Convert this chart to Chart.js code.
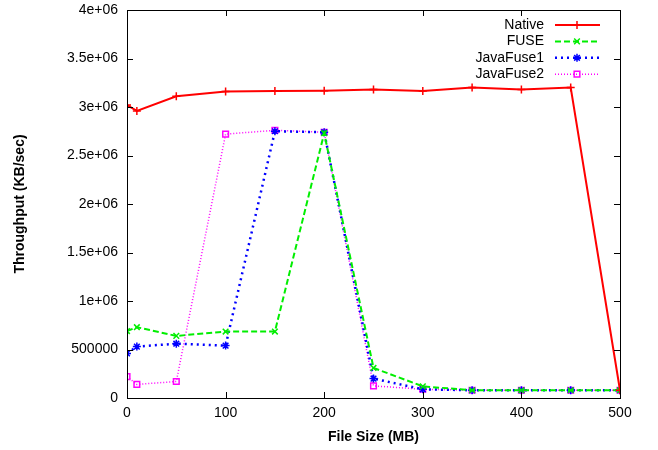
<!DOCTYPE html>
<html>
<head>
<meta charset="utf-8">
<script src="https://cdn.jsdelivr.net/npm/chart.js@4/dist/chart.umd.min.js"></script>
<style>
  html, body { margin: 0; padding: 0; background: #fff; }
  #wrap { width: 658px; height: 450px; }
</style>
</head>
<body>
<div id="wrap"><canvas id="chart" width="658" height="450"></canvas></div>
<script>
// file sizes (MB)
const sizes = [0, 10, 50, 100, 150, 200, 250, 300, 350, 400, 450, 500];

// throughput (KB/sec)
const nativeVals    = [3020000, 2960000, 3110000, 3160000, 3165000, 3168000, 3180000, 3166000, 3200000, 3180000, 3200000, 80000];
const fuseVals      = [690000, 730000, 640000, 685000, 685000, 2730000, 310000, 120000, 80000, 80000, 80000, 80000];
const javaFuse1Vals = [460000, 530000, 560000, 540000, 2750000, 2740000, 200000, 90000, 80000, 80000, 80000, 80000];
const javaFuse2Vals = [220000, 140000, 170000, 2720000, 2760000, 2740000, 125000, 90000, 80000, 80000, 80000, 80000];

const xTicks = [0, 100, 200, 300, 400, 500];
const yTicks = [0, 500000, 1000000, 1500000, 2000000, 2500000, 3000000, 3500000, 4000000];
const yTickLabels = ['0', '500000', '1e+06', '1.5e+06', '2e+06', '2.5e+06', '3e+06', '3.5e+06', '4e+06'];

const FONT = "'Liberation Sans', Arial, sans-serif";

const series = [
  { label: 'Native',    data: nativeVals,    color: '#ff0000', dash: [],     style: 'cross',    width: 2 },
  { label: 'FUSE',      data: fuseVals,      color: '#00ee00', dash: [6, 3], style: 'crossRot', width: 2 },
  { label: 'JavaFuse1', data: javaFuse1Vals, color: '#0000ff', dash: [2, 4], style: 'star',     width: 2.5 },
  { label: 'JavaFuse2', data: javaFuse2Vals, color: '#ff00ff', dash: [1, 2], style: 'rect',     width: 1.5 }
];

function toPoints(vals) {
  return sizes.map((x, i) => ({ x: x, y: vals[i] }));
}

// frame + inward ticks, gnuplot style
const framePlugin = {
  id: 'frame',
  afterDatasetsDraw(chart) {
    const { ctx, chartArea: a, scales } = chart;
    ctx.save();
    ctx.strokeStyle = '#000';
    ctx.lineWidth = 1;
    ctx.setLineDash([]);
    ctx.strokeRect(a.left + 0.5, a.top + 0.5, a.right - a.left, a.bottom - a.top);
    ctx.beginPath();
    xTicks.forEach(v => {
      const px = Math.round(scales.x.getPixelForValue(v)) + 0.5;
      ctx.moveTo(px, a.bottom); ctx.lineTo(px, a.bottom - 6);
      ctx.moveTo(px, a.top); ctx.lineTo(px, a.top + 6);
    });
    yTicks.forEach(v => {
      const py = Math.round(scales.y.getPixelForValue(v)) + 0.5;
      ctx.moveTo(a.left, py); ctx.lineTo(a.left + 6, py);
      ctx.moveTo(a.right, py); ctx.lineTo(a.right - 6, py);
    });
    ctx.stroke();
    ctx.restore();
  }
};

// legend in the top-right corner, text right-aligned with sample line
const keyPlugin = {
  id: 'key',
  afterDraw(chart) {
    const ctx = chart.ctx;
    ctx.save();
    ctx.font = '14px ' + FONT;
    ctx.textAlign = 'right';
    ctx.textBaseline = 'middle';
    series.forEach((s, i) => {
      const y = 25 + i * 16.4;
      ctx.fillStyle = '#000';
      ctx.fillText(s.label, 544, y);
      ctx.strokeStyle = s.color;
      ctx.lineWidth = s.width;
      ctx.setLineDash(s.dash);
      ctx.beginPath();
      ctx.moveTo(555, y); ctx.lineTo(600, y);
      ctx.stroke();
      ctx.setLineDash([]);
      ctx.lineWidth = 1.5;
      ctx.fillStyle = s.style === 'rect' ? 'rgba(0,0,0,0)' : s.color;
      Chart.helpers.drawPoint(ctx, {
        pointStyle: s.style, radius: 4, borderWidth: 1.5, rotation: 0
      }, 577, y);
    });
    ctx.restore();
  }
};

new Chart(document.getElementById('chart'), {
  type: 'line',
  data: {
    datasets: series.map(s => ({
      label: s.label,
      data: toPoints(s.data),
      borderColor: s.color,
      backgroundColor: s.style === 'rect' ? 'rgba(0,0,0,0)' : s.color,
      borderWidth: s.width,
      borderDash: s.dash,
      pointStyle: s.style,
      pointRadius: 4,
      pointBorderWidth: 1.5,
      pointBorderColor: s.color,
      pointBackgroundColor: s.style === 'rect' ? 'rgba(0,0,0,0)' : s.color,
      tension: 0,
      fill: false
    }))
  },
  options: {
    responsive: false,
    animation: false,
    layout: { padding: { top: 10, right: 38, left: 0, bottom: 0 } },
    plugins: { legend: { display: false }, tooltip: { enabled: false } },
    scales: {
      x: {
        type: 'linear',
        min: 0, max: 500,
        afterBuildTicks: sc => { sc.ticks = xTicks.map(v => ({ value: v })); },
        afterFit: sc => { sc.height = 52; sc.paddingLeft = 0; sc.paddingRight = 0; },
        grid: { display: false, drawTicks: false },
        border: { display: false },
        ticks: { color: '#000', font: { family: FONT, size: 14 }, padding: 7, maxRotation: 0 },
        title: { display: true, text: 'File Size (MB)', color: '#000', font: { family: FONT, size: 14, weight: 'bold' }, padding: { top: 3 } }
      },
      y: {
        min: 0, max: 4000000,
        afterBuildTicks: sc => { sc.ticks = yTicks.map(v => ({ value: v })); },
        afterFit: sc => { sc.width = 127; sc.paddingTop = 0; sc.paddingBottom = 0; },
        grid: { display: false, drawTicks: false },
        border: { display: false },
        ticks: {
          color: '#000', font: { family: FONT, size: 14 }, padding: 9,
          callback: v => yTickLabels[yTicks.indexOf(v)]
        },
        title: { display: true, text: 'Throughput (KB/sec)', color: '#000', font: { family: FONT, size: 14, weight: 'bold' }, padding: { top: 12, bottom: 0 } }
      }
    }
  },
  plugins: [framePlugin, keyPlugin]
});
</script>
</body>
</html>
